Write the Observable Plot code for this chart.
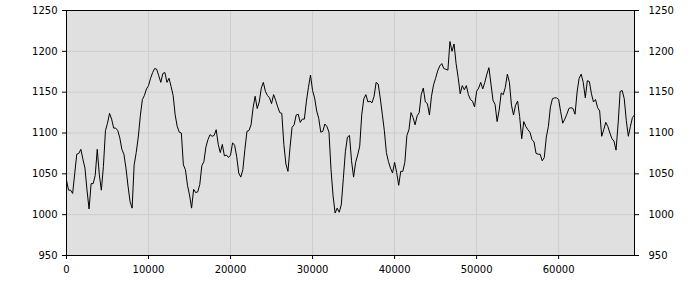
<!DOCTYPE html>
<html>
<head>
<meta charset="utf-8">
<script src="https://cdn.jsdelivr.net/npm/d3@7"></script>
<script src="https://cdn.jsdelivr.net/npm/@observablehq/plot@0.6"></script>
<style>
  html, body { margin: 0; padding: 0; background: #fff; }
</style>
</head>
<body>
<div id="chart"></div>
<script>
const xStep = 250;
const values = [
  1042,1030,1030,1026,1050,1074,1075,1080,1068,1057,
  1030,1007,1038,1038,1048,1080,1049,1030,1059,1103,
  1112,1124,1117,1106,1106,1103,1094,1080,1074,1057,
  1035,1016,1008,1061,1076,1095,1121,1141,1146,1154,
  1158,1167,1174,1179,1178,1170,1162,1173,1174,1162,
  1167,1157,1146,1122,1108,1101,1100,1061,1055,1036,
  1024,1008,1031,1027,1028,1037,1060,1065,1083,1092,
  1098,1096,1097,1104,1086,1076,1086,1072,1073,1070,
  1073,1088,1085,1071,1051,1046,1055,1080,1102,1103,
  1110,1131,1145,1130,1138,1155,1162,1151,1146,1143,
  1136,1147,1140,1132,1125,1124,1086,1062,1053,1082,
  1107,1110,1122,1123,1113,1117,1117,1139,1156,1171,
  1152,1143,1127,1118,1101,1102,1111,1108,1101,1055,
  1023,1002,1008,1003,1012,1044,1077,1095,1097,1066,
  1046,1064,1073,1084,1123,1142,1147,1138,1139,1137,
  1145,1162,1160,1143,1123,1103,1076,1065,1057,1051,
  1064,1052,1036,1053,1053,1064,1097,1104,1125,1119,
  1110,1121,1125,1147,1155,1138,1136,1122,1145,1159,
  1167,1176,1182,1185,1179,1178,1177,1212,1200,1209,
  1185,1168,1148,1158,1153,1158,1147,1141,1139,1132,
  1151,1155,1162,1154,1162,1172,1180,1160,1140,1135,
  1114,1128,1149,1147,1156,1172,1162,1134,1122,1134,
  1139,1120,1093,1114,1108,1104,1101,1092,1089,1075,
  1074,1074,1066,1070,1095,1108,1132,1142,1143,1143,
  1141,1126,1112,1117,1123,1130,1131,1130,1123,1150,
  1167,1172,1162,1143,1164,1163,1148,1138,1141,1131,
  1127,1096,1104,1113,1108,1100,1093,1090,1079,1111,
  1151,1152,1142,1115,1096,1108,1119,1122
];
const xTicks = [0, 10000, 20000, 30000, 40000, 50000, 60000];
const yTicks = [950, 1000, 1050, 1100, 1150, 1200, 1250];

const data = values.map((v, i) => ({x: i * xStep, y: v}));
const plain = d => String(d);

const chart = Plot.plot({
  width: 700,
  height: 300,
  marginLeft: 66,
  marginRight: 66,
  marginTop: 10,
  marginBottom: 45,
  style: {fontFamily: "DejaVu Sans, Verdana, sans-serif", fontSize: "10px", color: "#000", background: "#fff"},
  x: {domain: [0, (values.length - 1) * xStep], ticks: xTicks, tickFormat: plain, label: null},
  y: {domain: [950, 1250], ticks: yTicks, tickFormat: plain, label: null},
  marks: [
    Plot.frame({fill: "#e0e0e0", stroke: null}),
    Plot.gridX(xTicks, {stroke: "#cdcdcd", strokeOpacity: 1}),
    Plot.gridY(yTicks, {stroke: "#cdcdcd", strokeOpacity: 1}),
    Plot.line(data, {x: "x", y: "y", stroke: "black", strokeWidth: 1}),
    Plot.frame({stroke: "black", strokeWidth: 1}),
    Plot.axisX({ticks: xTicks, tickFormat: plain, tickSize: 4, tickPadding: 6, label: null, fontSize: 10}),
    Plot.axisY({anchor: "left", ticks: yTicks, tickFormat: plain, tickSize: 4, tickPadding: 5, label: null, fontSize: 10}),
    Plot.axisY({anchor: "right", ticks: yTicks, tickFormat: plain, tickSize: 4, tickPadding: 10, label: null, fontSize: 10})
  ]
});
document.getElementById("chart").appendChild(chart);
</script>
</body>
</html>
